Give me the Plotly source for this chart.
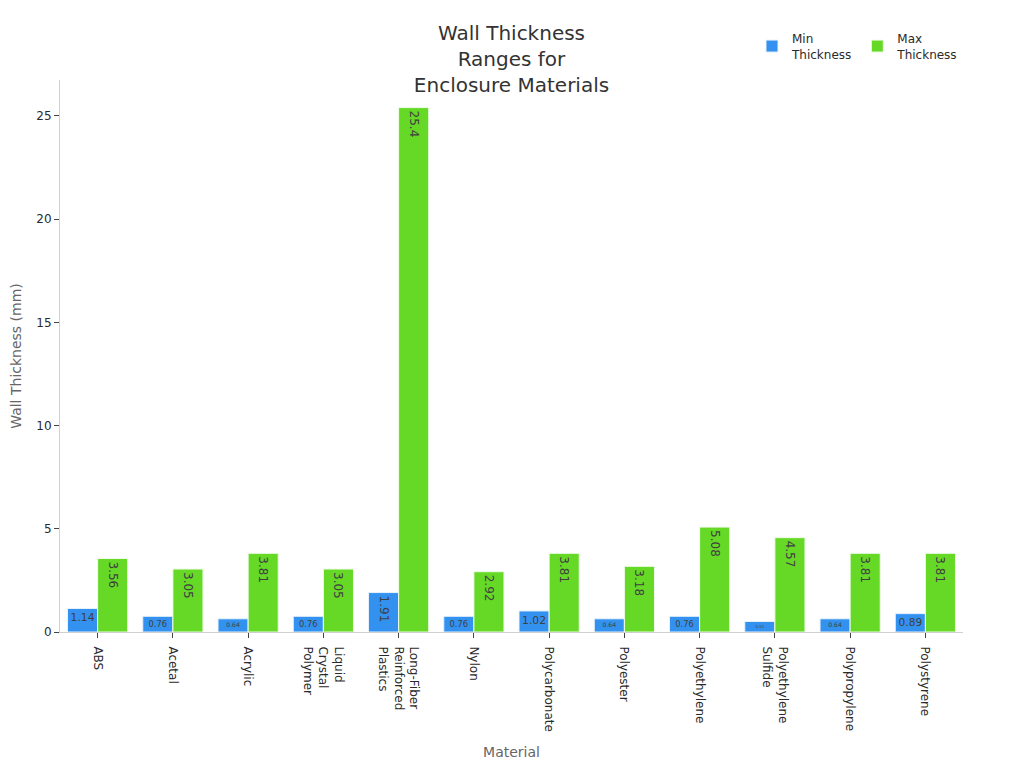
import plotly.graph_objects as go

materials = ["ABS", "Acetal", "Acrylic", "Liquid<br>Crystal<br>Polymer",
             "Long-Fiber<br>Reinforced<br>Plastics", "Nylon", "Polycarbonate",
             "Polyester", "Polyethylene", "Polyethylene<br>Sulfide",
             "Polypropylene", "Polystyrene"]
min_thickness = [1.14, 0.76, 0.64, 0.76, 1.91, 0.76, 1.02, 0.64, 0.76, 0.51, 0.64, 0.89]
max_thickness = [3.56, 3.05, 3.81, 3.05, 25.4, 2.92, 3.81, 3.18, 5.08, 4.57, 3.81, 3.81]

FONT = "DejaVu Sans, Verdana, sans-serif"

fig = go.Figure()
fig.add_trace(go.Bar(x=materials, y=min_thickness, name="Min<br>Thickness",
                     marker=dict(color="#3391f0", line=dict(color="#e8f2fc", width=1)),
                     text=min_thickness, textposition="inside",
                     textfont=dict(color="#404040")))
fig.add_trace(go.Bar(x=materials, y=max_thickness, name="Max<br>Thickness",
                     marker=dict(color="#66d926", line=dict(color="#effbe9", width=1)),
                     text=max_thickness, textposition="inside",
                     textfont=dict(color="#404040")))

# the page body adds an 8px offset, so margins are trimmed to compensate
fig.update_layout(
    width=1024, height=768,
    template="plotly_white",
    font=dict(family=FONT, size=12, color="#2a2a2a"),
    title=dict(text="Wall Thickness<br>Ranges for<br>Enclosure Materials",
               x=0.5, xref="paper", xanchor="center", y=0.958, yanchor="top",
               font=dict(size=20, color="#333333")),
    barmode="group", bargap=0.2, bargroupgap=0,
    margin=dict(l=52, r=69, t=72, b=144, autoexpand=False),
    legend=dict(orientation="h", x=1, xanchor="right", y=1.02, yanchor="bottom",
                font=dict(size=12)),
    xaxis=dict(title=dict(text="Material", font=dict(size=14, color="#666666"),
                          standoff=16),
               tickangle=90, showgrid=False, showline=True, linecolor="#d0d0d0",
               ticks="outside", tickcolor="#444444", ticklen=5,
               ticklabelstandoff=6, automargin=False),
    yaxis=dict(title=dict(text="Wall Thickness (mm)", font=dict(size=14, color="#666666")),
               showgrid=False, showline=True, linecolor="#d0d0d0",
               ticks="outside", tickcolor="#444444", ticklen=5, zeroline=False,
               automargin=False),
)

fig.write_html("out.html")
